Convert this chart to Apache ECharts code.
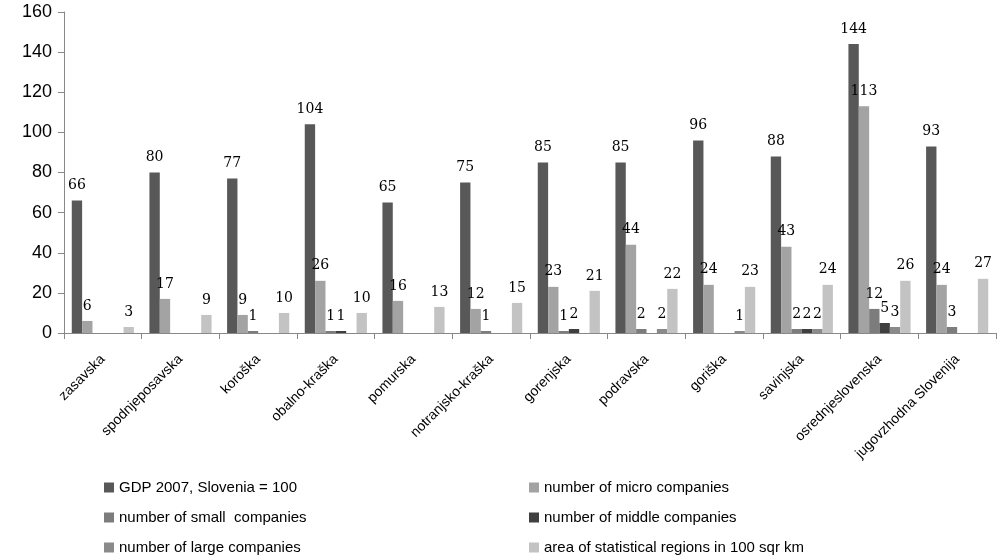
<!DOCTYPE html>
<html>
<head>
<meta charset="utf-8">
<script src="https://cdn.jsdelivr.net/npm/echarts@6/dist/echarts.min.js"></script>
<style>
  html, body { margin: 0; padding: 0; background: #fff; }
  #chart { width: 999px; height: 557px; }
</style>
</head>
<body>
<div id="chart"></div>
<script>
// regions
var regions = ['zasavska', 'spodnjeposavska', 'koroška', 'obalno-kraška', 'pomurska', 'notranjsko-kraška',
  'gorenjska', 'podravska', 'goriška', 'savinjska', 'osrednjeslovenska', 'jugovzhodna Slovenija']

var gdp = [66, 80, 77, 104, 65, 75, 85, 85, 96, 88, 144, 93]
var microCo = [6, 17, 9, 26, 16, 12, 23, 44, 24, 43, 113, 24]
var smallCo = [0, 0, 1, 1, 0, 1, 1, 2, 0, 2, 12, 3]
var middleCo = [0, 0, 0, 1, 0, 0, 2, 0, 0, 2, 5, 0]
var largeCo = [0, 0, 0, 0, 0, 0, 0, 2, 1, 2, 3, 0]
var area = [3, 9, 10, 10, 13, 15, 21, 22, 23, 24, 26, 27]

var seriesNames = ['GDP 2007, Slovenia = 100', 'number of micro companies', 'number of small  companies',
  'number of middle companies', 'number of large companies', 'area of statistical regions in 100 sqr km']
var seriesData = [gdp, microCo, smallCo, middleCo, largeCo, area]
var colors = ['#585858', '#a3a3a3', '#7c7c7c', '#3f3f3f', '#8a8a8a', '#c3c3c3']

var labelFont = 'DejaVu Serif'
var textFont = '"Liberation Sans Narrow", "Liberation Sans", sans-serif'

var chart = echarts.init(document.getElementById('chart'))

var series = seriesData.map(function (d, i) {
  return {
    name: seriesNames[i],
    type: 'bar',
    data: d,
    barGap: '0%',
    barCategoryGap: '20%',
    itemStyle: { color: colors[i] },
    label: {
      show: true,
      position: 'top',
      distance: 8,
      color: '#000',
      fontFamily: labelFont,
      fontSize: 14,
      formatter: function (p) { return p.value === 0 ? '' : p.value }
    }
  }
})

function legendBox(left, names) {
  return {
    orient: 'vertical',
    left: left,
    top: 479,
    height: 78,
    padding: 0,
    itemWidth: 10,
    itemHeight: 10,
    itemGap: 13,
    icon: 'rect',
    textStyle: { fontFamily: textFont, fontSize: 15, lineHeight: 17, color: '#000' },
    data: names
  }
}

chart.setOption({
  animation: false,
  color: colors,
  grid: {
    left: 64,
    right: 3,
    top: 12,
    bottom: 224
  },
  legend: [
    legendBox(104, [seriesNames[0], seriesNames[2], seriesNames[4]]),
    legendBox(529, [seriesNames[1], seriesNames[3], seriesNames[5]])
  ],
  xAxis: {
    type: 'category',
    data: regions,
    axisLine: { lineStyle: { color: '#888' } },
    axisTick: { show: true, length: 6, lineStyle: { color: '#888' } },
    axisLabel: {
      interval: 0,
      rotate: 45,
      margin: 24,
      color: '#000',
      fontFamily: textFont,
      fontSize: 14
    }
  },
  yAxis: {
    type: 'value',
    min: 0,
    max: 160,
    interval: 20,
    axisLine: { show: true, lineStyle: { color: '#888' } },
    axisTick: { show: true, length: 6, lineStyle: { color: '#888' } },
    splitLine: { show: false },
    axisLabel: {
      color: '#000',
      margin: 12,
      fontFamily: textFont,
      fontSize: 18
    }
  },
  series: series
})
</script>
</body>
</html>
